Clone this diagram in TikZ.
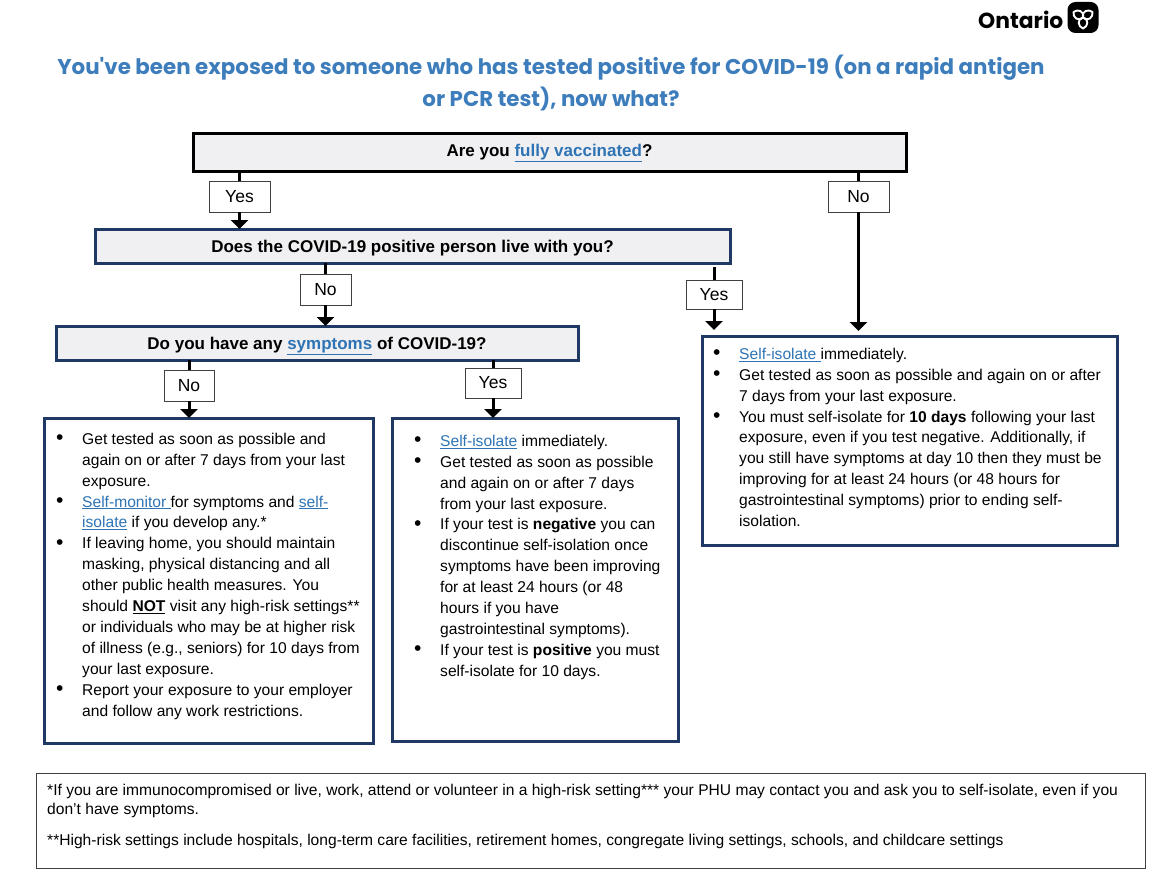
\documentclass[tikz,border=0pt]{standalone}
\usepackage{fontspec}
\setmainfont{Liberation Sans}
\newfontfamily\titlefont{Poppins}
\usepackage{array}
\usetikzlibrary{
	positioning,
	arrows.meta
}
\definecolor{navyline}{HTML}{1F3864}
\definecolor{linkblue}{HTML}{2E74B5}
\definecolor{titleblue}{HTML}{3D7DBB}
\definecolor{boxgray}{HTML}{F0F0F2}
\newcommand{\lnk}[1]{\textcolor{linkblue}{\underline{#1}}}
\newcommand{\bul}{\smash{\raisebox{-0.4pt}{\scalebox{1.35}{\textbullet}}}}
\tikzset{
	question/.style={draw=navyline,line width=3pt,fill=boxgray,anchor=north west,font=\fontsize{17}{19}\selectfont\bfseries,inner sep=0pt,outer sep=0pt,text height=14pt,text depth=2pt},
	answer/.style={draw=black!75,line width=1pt,fill=white,inner sep=0pt,outer sep=0pt,font=\fontsize{17.5}{19}\selectfont},
	panel/.style={draw=navyline,line width=3pt,fill=white,anchor=north west,inner sep=0pt,outer sep=0pt},
	bodytext/.style={anchor=north west,inner sep=0pt,font=\fontsize{15.6}{20.9}\selectfont},
	flow/.style={line width=3pt,-{Triangle[width=17pt,length=9pt]}},
	stem/.style={line width=3pt},
}
\begin{document}
\begin{tikzpicture}[x=1pt,y=-1pt]
	\useasboundingbox (0,0) rectangle (1155,883);

	% heading
	\node[anchor=west,inner sep=0pt,font=\fontsize{21.8}{28}\selectfont\bfseries] (brand) at (978,20) {\titlefont Ontario};
	\node[fill=black,rounded corners=8pt,minimum size=31pt,inner sep=0pt] (badge) at (1083,17.5) {};
	\foreach \a in {0,120,240}
		\draw[white,line width=1.9pt,line join=round,shift={(badge.center)},rotate=\a]
			(0,0) .. controls (-6.5,2) and (-5,9) .. (0,11) .. controls (5,9) and (6.5,2) .. (0,0);
	\node[inner sep=0pt,align=center,font=\fontsize{21.35}{32}\selectfont\bfseries,text=titleblue] (title) at (551,82.5)
		{\titlefont You've been exposed to someone who has tested positive for COVID-19 (on a rapid antigen\\ \titlefont or PCR test), now what?};

	% questions
	\node[question,draw=black,text depth=4.5pt,minimum width=713pt,minimum height=38pt] (vacc) at (193,133) {Are you \lnk{fully vaccinated}?};
	\node[question,minimum width=635pt,minimum height=34pt] (live) at (95,229) {Does the COVID-19 positive person live with you?};
	\node[question,minimum width=522pt,minimum height=34pt] (sympt) at (56,326) {Do you have any \lnk{symptoms} of COVID-19?};

	% answers
	\node[answer,minimum width=61pt,minimum height=31pt] (yesvacc) at (239.5,196.5) {Yes};
	\node[answer,minimum width=61pt,minimum height=31pt] (novacc) at (858.5,196.5) {No};
	\node[answer,minimum width=51pt,minimum height=31pt] (nolive) at (325.5,289.5) {No};
	\node[answer,minimum width=56pt,minimum height=29pt] (yeslive) at (714,294.5) {Yes};
	\node[answer,minimum width=50pt,minimum height=31pt] (nosympt) at (189,385.5) {No};
	\node[answer,minimum width=56pt,minimum height=30pt] (yessympt) at (493,383) {Yes};

	% panels
	\node[panel,minimum width=329pt,minimum height=325pt] (panelno) at (44,418) {};
	\node[panel,minimum width=286pt,minimum height=323pt] (panelyes) at (392,418) {};
	\node[panel,minimum width=415pt,minimum height=209pt] (panelex) at (702,336) {};
	\node[draw=black!75,line width=1pt,anchor=north west,minimum width=1109pt,minimum height=95pt,inner sep=0pt,outer sep=0pt] (notes) at (36,773) {};

	% connectors
	\draw[stem] (vacc.south -| yesvacc) -- (yesvacc);
	\draw[stem] (vacc.south -| novacc) -- (novacc);
	\draw[stem] (live.south -| nolive) -- (nolive);
	\draw[stem,shorten <=4pt] (live.south -| yeslive) -- (yeslive);
	\draw[stem] (sympt.south -| nosympt) -- (nosympt);
	\draw[stem] (sympt.south -| yessympt) -- (yessympt);
	\draw[flow] (yesvacc) -- (yesvacc |- live.north);
	\draw[flow,shorten >=5pt] (novacc) -- (novacc |- panelex.north);
	\draw[flow] (nolive) -- (nolive |- sympt.north);
	\draw[flow,shorten >=6pt] (yeslive) -- (yeslive |- panelex.north);
	\draw[flow] (nosympt) -- (nosympt |- panelno.north);
	\draw[flow] (yessympt) -- (yessympt |- panelyes.north);

	% panel text
	\node[bodytext] (textno) at (56,429.5) {\begin{tabular}{@{}p{26pt}@{}l@{}}
		\bul & Get tested as soon as possible and\\
		& again on or after 7 days from your last\\
		& exposure.\\
		\bul & \lnk{Self-monitor }for symptoms and \lnk{self-}\\
		& \lnk{isolate} if you develop any.*\\
		\bul & If leaving home, you should maintain\\
		& masking, physical distancing and all\\
		& other public health measures. You\\
		& should \textbf{\underline{NOT}} visit any high-risk settings**\\
		& or individuals who may be at higher risk\\
		& of illness (e.g., seniors) for 10 days from\\
		& your last exposure.\\
		\bul & Report your exposure to your employer\\
		& and follow any work restrictions.
	\end{tabular}};
	\node[bodytext] (textyes) at (414,431.5) {\begin{tabular}{@{}p{26pt}@{}l@{}}
		\bul & \lnk{Self-isolate} immediately.\\
		\bul & Get tested as soon as possible\\
		& and again on or after 7 days\\
		& from your last exposure.\\
		\bul & If your test is \textbf{negative} you can\\
		& discontinue self-isolation once\\
		& symptoms have been improving\\
		& for at least 24 hours (or 48\\
		& hours if you have\\
		& gastrointestinal symptoms).\\
		\bul & If your test is \textbf{positive} you must\\
		& self-isolate for 10 days.
	\end{tabular}};
	\node[bodytext] (textex) at (713,344.5) {\begin{tabular}{@{}p{26pt}@{}l@{}}
		\bul & \lnk{Self-isolate\ }immediately.\\
		\bul & Get tested as soon as possible and again on or after\\
		& 7 days from your last exposure.\\
		\bul & You must self-isolate for \textbf{10 days} following your last\\
		& exposure, even if you test negative. Additionally, if\\
		& you still have symptoms at day 10 then they must be\\
		& improving for at least 24 hours (or 48 hours for\\
		& gastrointestinal symptoms) prior to ending self-\\
		& isolation.
	\end{tabular}};
	\node[anchor=north west,inner sep=0pt,align=left,font=\fontsize{15.6}{19}\selectfont] (textnotes) at (47,784)
		{*If you are immunocompromised or live, work, attend or volunteer in a high-risk setting*** your PHU may contact you and ask you to self-isolate, even if you\\
		don't have symptoms.\\[12pt]
		**High-risk settings include hospitals, long-term care facilities, retirement homes, congregate living settings, schools, and childcare settings};
\end{tikzpicture}
\end{document}
